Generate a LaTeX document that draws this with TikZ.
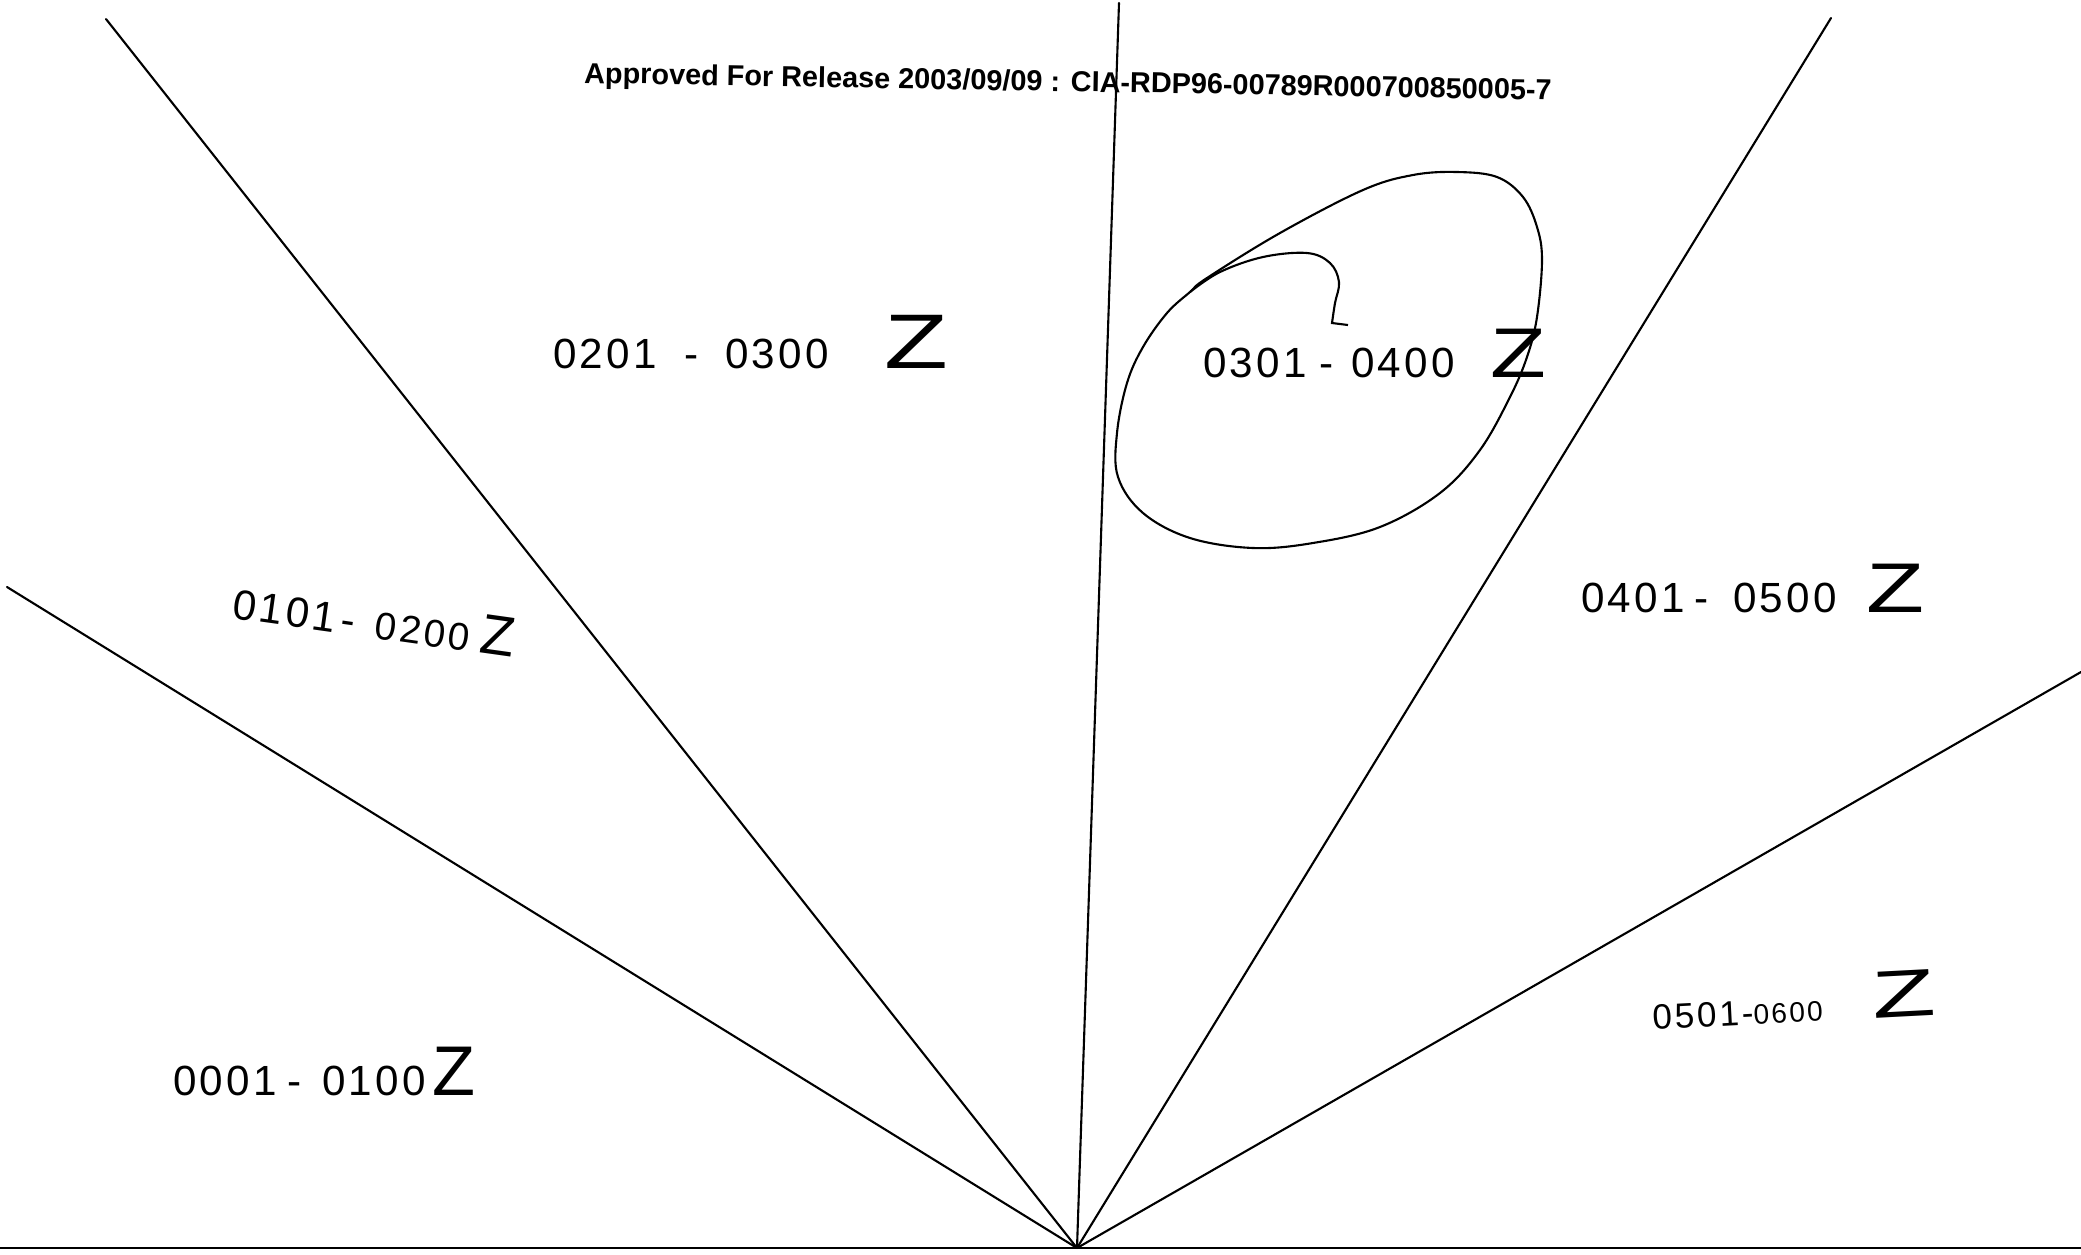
\documentclass[tikz,border=0pt]{standalone}
\usepackage{fontspec}
\setmainfont{Liberation Sans}
\newfontfamily\hand[LetterSpace=8]{Liberation Sans}
\usetikzlibrary{positioning}

\begin{document}
\begin{tikzpicture}[x=.01cm,y=-.01cm,line width=.6pt,
 ray/.style={line width=.6pt,line cap=round},
 hour/.style={font=\hand\fontsize{12}{12}\selectfont,anchor=base west,inner sep=0pt},
 header/.style={font=\bfseries\fontsize{8.2}{10}\selectfont,inner sep=0pt}]
\useasboundingbox (0,0) rectangle (2081,1254);
\coordinate (o) at (1077,1248);
\coordinate (bl) at (0,1248);
\coordinate (br) at (2081,1248);
\draw[ray] (bl)--(br);
\foreach \n/\x/\y in {a/7/587,b/106/19,c/1119/3,d/1831/18,e/2081/672}{
 \coordinate (\n) at (\x,\y);
 \draw[ray] (o)--(\n);
}
\node[header,rotate=-1] (hdr) at (1068,84)
 {Approved For Release 2003/09/09 : CIA-RDP96-00789R000700850005-7};
\node[hour] (t0) at (172,1095)
 {0001\hspace{1mm}-\hspace{2.1mm}0100\hspace{.6mm}{\fontsize{20}{20}\selectfont Z}};
\node[hour,rotate=-8] (t1) at (230,618)
 {0101\hspace{.6mm}-\hspace{2mm}{\fontsize{11}{11}\selectfont 0200}\hspace{1mm}{\fontsize{16}{16}\selectfont Z}};
\node[hour] (t2) at (552,368)
 {0201\hspace{2.7mm}-\hspace{2.7mm}0300\hspace{5.5mm}{\fontsize{22}{22}\selectfont\scalebox{1.35}[1]{Z}}};
\node[hour] (t3) at (1202,377)
 {0301\hspace{1.2mm}-\hspace{1.8mm}0400\hspace{3.5mm}{\fontsize{20}{20}\selectfont\scalebox{1.3}[1]{Z}}};
\node[hour] (t4) at (1580,612)
 {0401\hspace{.9mm}-\hspace{2.5mm}0500\hspace{2.9mm}{\fontsize{20}{20}\selectfont\scalebox{1.35}[1]{Z}}};
\node[hour,rotate=3] (t5) at (1652,1030)
 {{\fontsize{10}{10}\selectfont 0501-}{\fontsize{8}{8}\selectfont 0600}\hspace{5mm}{\fontsize{19}{19}\selectfont\scalebox{1.55}[1]{Z}}};
\draw plot[smooth cycle,tension=.6] coordinates {(1207,278) (1280,233) (1363,190)
 (1413,175) (1457,172) (1497,177) (1523,197) (1537,227) (1542,260) (1537,317)
 (1527,357) (1510,397) (1480,450) (1440,493) (1380,527) (1313,543) (1253,548)
 (1190,538) (1143,513) (1118,477) (1117,433) (1127,383) (1143,347) (1167,313)
 (1190,292)};
\draw plot[smooth,tension=.6] coordinates {(1190,292) (1220,272) (1263,257)
 (1307,253) (1330,263) (1339,282) (1335,303) (1332,323)} -- (1348,325);
\end{tikzpicture}
\end{document}
